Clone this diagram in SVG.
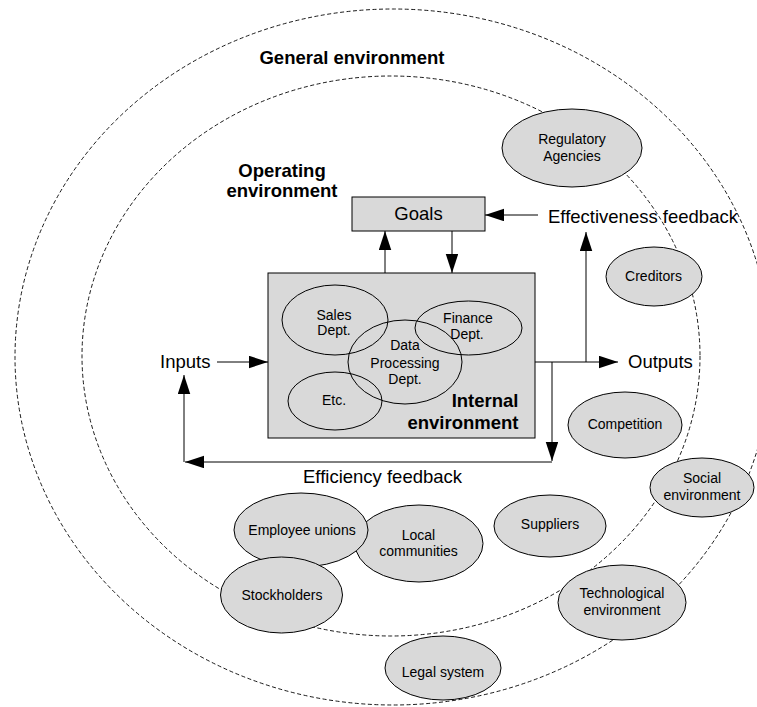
<svg xmlns="http://www.w3.org/2000/svg" width="757" height="707" viewBox="0 0 757 707">
  <style>
    .bg { fill: #ffffff; }
    .ring { fill: none; stroke: #000; stroke-width: 0.9; stroke-dasharray: 4 2.5; }
    .ent { fill: #d9d9d9; stroke: #000; stroke-width: 1; }
    .dept { fill: none; stroke: #000; stroke-width: 1; }
    .box { fill: #d9d9d9; stroke: #000; stroke-width: 1; }
    .wire { fill: none; stroke: #000; stroke-width: 1; }
    .arr { marker-end: url(#head); }
    text { font-family: "Liberation Sans", Arial, sans-serif; fill: #000; }
    .big { font-size: 18.5px; }
    .bold { font-size: 18.5px; font-weight: bold; }
    .sm { font-size: 14px; text-anchor: middle; }
  </style>
  <defs>
    <marker id="head" markerUnits="userSpaceOnUse" markerWidth="20" markerHeight="13" refX="19" refY="6.25" orient="auto">
      <path d="M0,0 L19,6.25 L0,12.5 Z" fill="#000"/>
    </marker>
  </defs>

  <rect class="bg" x="0" y="0" width="757" height="707"/>

  <!-- environment rings -->
  <g id="general-environment">
    <ellipse class="ring" cx="393" cy="357" rx="378" ry="348"/>
    <text class="bold" x="352" y="63.5" text-anchor="middle">General environment</text>
  </g>
  <g id="operating-environment">
    <ellipse class="ring" cx="391" cy="356" rx="309" ry="280"/>
    <text class="bold" x="282" y="176.5" text-anchor="middle">Operating</text>
    <text class="bold" x="282" y="197" text-anchor="middle">environment</text>
  </g>

  <!-- connectors -->
  <g id="connectors">
    <line class="wire arr" x1="385" y1="273" x2="385" y2="231"/>
    <line class="wire arr" x1="452" y1="231" x2="452" y2="273"/>
    <line class="wire arr" x1="538" y1="215" x2="485" y2="215"/>
    <line class="wire arr" x1="217" y1="362" x2="268" y2="362"/>
    <line class="wire arr" x1="535" y1="362" x2="618" y2="362"/>
    <line class="wire arr" x1="586" y1="362" x2="586" y2="232"/>
    <line class="wire arr" x1="552" y1="362" x2="552" y2="461"/>
    <line class="wire arr" x1="552" y1="462" x2="185" y2="462"/>
    <line class="wire arr" x1="184" y1="462" x2="184" y2="375"/>
    <text class="big" x="160" y="368.3">Inputs</text>
    <text class="big" x="628" y="368.3">Outputs</text>
    <text class="big" x="548" y="222.6">Effectiveness feedback</text>
    <text class="big" x="303" y="483.3">Efficiency feedback</text>
  </g>

  <g id="goals">
    <rect class="box" x="352" y="197" width="133" height="34"/>
    <text class="big" x="418.5" y="219.5" text-anchor="middle">Goals</text>
  </g>

  <g id="internal-environment">
    <rect class="box" x="268" y="273" width="267" height="165"/>
    <text class="bold" x="518.5" y="407.3" text-anchor="end">Internal</text>
    <text class="bold" x="518.5" y="429.3" text-anchor="end">environment</text>
  </g>
  <g id="sales-dept">
    <ellipse class="dept" cx="335" cy="320" rx="53" ry="35"/>
    <text class="sm" x="334" y="319.8">Sales</text>
    <text class="sm" x="334" y="335.3">Dept.</text>
  </g>
  <g id="finance-dept">
    <ellipse class="dept" cx="468.5" cy="328" rx="53.5" ry="27"/>
    <text class="sm" x="468" y="322.7">Finance</text>
    <text class="sm" x="467" y="338.5">Dept.</text>
  </g>
  <g id="data-processing-dept">
    <ellipse class="dept" cx="405" cy="362" rx="57" ry="42"/>
    <text class="sm" x="405" y="350">Data</text>
    <text class="sm" x="405" y="367.5">Processing</text>
    <text class="sm" x="405" y="384">Dept.</text>
  </g>
  <g id="etc">
    <ellipse class="dept" cx="335" cy="401" rx="47" ry="29"/>
    <text class="sm" x="334" y="405">Etc.</text>
  </g>

  <!-- outside parties -->
  <g id="regulatory-agencies">
    <ellipse class="ent" cx="572" cy="148" rx="70" ry="39"/>
    <text class="sm" x="572" y="143.5">Regulatory</text>
    <text class="sm" x="572" y="160.5">Agencies</text>
  </g>
  <g id="creditors">
    <ellipse class="ent" cx="654" cy="276.5" rx="48" ry="29.5"/>
    <text class="sm" x="653.5" y="280.7">Creditors</text>
  </g>
  <g id="competition">
    <ellipse class="ent" cx="625" cy="425" rx="57" ry="33"/>
    <text class="sm" x="625" y="429.3">Competition</text>
  </g>
  <g id="social-environment">
    <ellipse class="ent" cx="702" cy="487.5" rx="52" ry="29.5"/>
    <text class="sm" x="702" y="483.3">Social</text>
    <text class="sm" x="702" y="500">environment</text>
  </g>
  <g id="suppliers">
    <ellipse class="ent" cx="550" cy="526" rx="56" ry="31"/>
    <text class="sm" x="550" y="528.7">Suppliers</text>
  </g>
  <g id="technological-environment">
    <ellipse class="ent" cx="622" cy="602.5" rx="64" ry="37.5"/>
    <text class="sm" x="622" y="598.3">Technological</text>
    <text class="sm" x="622" y="615">environment</text>
  </g>
  <g id="local-communities">
    <ellipse class="ent" cx="419" cy="543.5" rx="64" ry="38.5"/>
    <text class="sm" x="418.5" y="540">Local</text>
    <text class="sm" x="418.5" y="556">communities</text>
  </g>
  <g id="employee-unions">
    <ellipse class="ent" cx="301" cy="530" rx="67" ry="37"/>
    <text class="sm" x="302" y="535">Employee unions</text>
  </g>
  <g id="stockholders">
    <ellipse class="ent" cx="281.5" cy="595" rx="61" ry="38"/>
    <text class="sm" x="282" y="600">Stockholders</text>
  </g>
  <g id="legal-system">
    <ellipse class="ent" cx="443" cy="668" rx="58" ry="32"/>
    <text class="sm" x="443" y="676.7">Legal system</text>
  </g>
</svg>
